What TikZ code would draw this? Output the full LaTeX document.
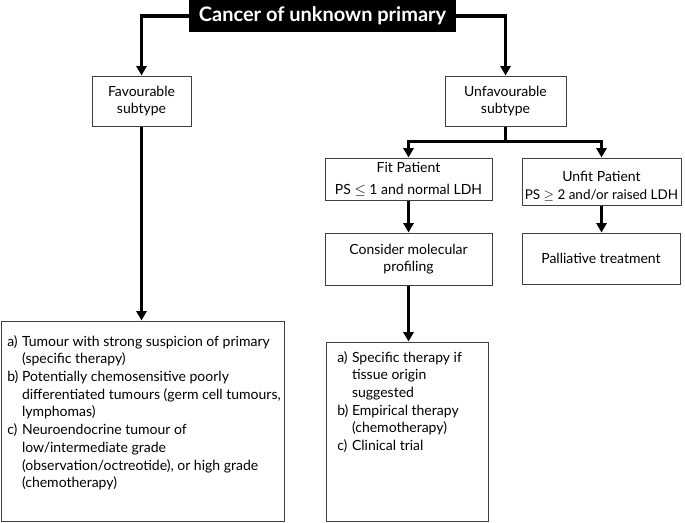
\documentclass[tikz,border=0pt]{standalone}
\usepackage{fontspec}
\setmainfont{Lato}
\usetikzlibrary{arrows.meta}
\begin{document}
\begin{tikzpicture}[x=0.75pt,y=-0.75pt,
  box/.style={draw=black!75, line width=0.75pt, inner sep=0pt, align=center,
    font=\fontsize{10.5}{13.3}\selectfont},
  arr/.style={line width=2.3pt, -{Triangle[width=7.5pt,length=7pt]}},
  ln/.style={line width=2.3pt},
  txt/.style={anchor=base west, inner sep=0pt, font=\fontsize{10.5}{13.3}\selectfont}]
\useasboundingbox (0,0) rectangle (685,522);
\node[fill=black, inner sep=0pt, text=white, minimum width=200.25pt, minimum height=24pt,
  font=\bfseries\fontsize{15}{18}\selectfont] (title) at (322.5,16) {Cancer of unknown primary};
\node[box, minimum width=74.25pt, minimum height=37.5pt] (fav) at (141.5,101) {Favourable\\subtype};
\node[box, minimum width=90.75pt, minimum height=37.5pt] (unfav) at (505.5,101) {Unfavourable\\subtype};
\node[box, minimum width=125.25pt, minimum height=31.5pt] (fit) at (408.5,179) {Fit Patient\\[3pt]PS $\leq$ 1 and normal LDH};
\node[box, minimum width=119.25pt, minimum height=35.25pt] (unfit) at (601.5,181.5)
  {\rule{0pt}{15pt}Unfit Patient\\\fontsize{10.1}{13.3}\selectfont PS $\geq$ 2 and/or raised LDH};
\node[box, minimum width=125.25pt, minimum height=39pt] (consider) at (408.5,259) {Consider molecular\\profiling};
\node[box, minimum width=118.5pt, minimum height=38.25pt] (pall) at (601,258.5) {Palliative treatment};
\node[box, minimum width=212.25pt, minimum height=150pt] (big) at (142.5,421) {};
\node[box, minimum width=121.5pt, minimum height=134.25pt] (spec) at (407,431.5) {};
\node[txt] (bigt) at (7,346) {\begin{tabular}[t]{@{}l@{\ }l@{}}
a) & Tumour with strong suspicion of primary\\
   & (specific therapy)\\
b) & Potentially chemosensitive poorly\\
   & differentiated tumours (germ cell tumours,\\
   & lymphomas)\\
c) & Neuroendocrine tumour of\\
   & low/intermediate grade\\
   & (observation/octreotide), or high grade\\
   & (chemotherapy)
\end{tabular}};
\node[txt] (spect) at (337,362) {\begin{tabular}[t]{@{}l@{\ }l@{}}
a) & Specific therapy if\\
   & tissue origin\\
   & suggested\\
b) & Empirical therapy\\
   & (chemotherapy)\\
c) & Clinical trial
\end{tabular}};
\draw[arr] (title.west) -| (fav.north);
\draw[arr] (title.east) -| (unfav.north);
\path (unfav.south) ++(0,15) coordinate (br);
\draw[ln] (unfav.south) -- (br);
\draw[arr] (br) -| (fit.north);
\draw[arr] (br) -| (unfit.north);
\draw[arr] (fit.south) -- (consider.north);
\draw[arr] (unfit.south) -- (unfit.south |- pall.north);
\draw[arr] (consider.south) -- (consider.south |- spec.north);
\draw[arr] (fav.south) -- (fav.south |- big.north);
\end{tikzpicture}
\end{document}
